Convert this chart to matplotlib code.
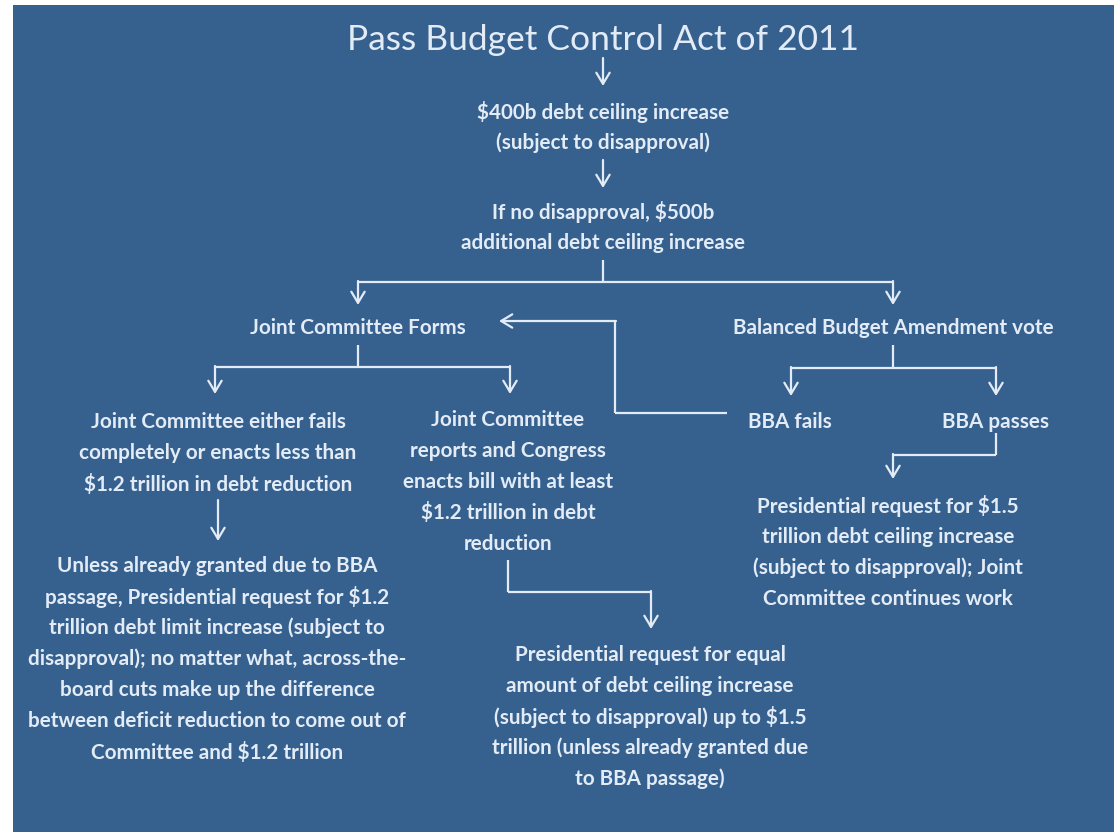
import matplotlib
matplotlib.use("Agg")
import matplotlib.pyplot as plt
from matplotlib.patches import Rectangle, FancyArrowPatch

# ---- content ----
title = "Pass Budget Control Act of 2011"
step1 = ["$400b debt ceiling increase", "(subject to disapproval)"]
step2 = ["If no disapproval, $500b", "additional debt ceiling increase"]
jc_forms = "Joint Committee Forms"
bba_vote = "Balanced Budget Amendment vote"
jc_fails = ["Joint Committee either fails", "completely or enacts less than",
            "$1.2 trillion in debt reduction"]
jc_reports = ["Joint Committee", "reports and Congress", "enacts bill with at least",
              "$1.2 trillion in debt", "reduction"]
bba_fails = "BBA fails"
bba_passes = "BBA passes"
bba_pass_result = ["Presidential request for $1.5", "trillion debt ceiling increase",
                   "(subject to disapproval); Joint", "Committee continues work"]
fail_result = ["Unless already granted due to BBA", "passage, Presidential request for $1.2",
               "trillion debt limit increase (subject to", "disapproval); no matter what, across-the-",
               "board cuts make up the difference", "between deficit reduction to come out of",
               "Committee and $1.2 trillion"]
report_result = ["Presidential request for equal", "amount of debt ceiling increase",
                 "(subject to disapproval) up to $1.5", "trillion (unless already granted due",
                 "to BBA passage)"]

BG = "#36618f"
FG = "#e3ecf6"
W, H = 1114, 832

fig = plt.figure(figsize=(W / 100, H / 100), dpi=100, facecolor="white")
ax = fig.add_axes([0, 0, 1, 1])
ax.set_xlim(0, W)
ax.set_ylim(H, 0)
ax.axis("off")
ax.add_patch(Rectangle((13, 5), W - 13, H - 5, facecolor=BG, edgecolor="none"))

FONT = "Lato"
BODY = 14.9
LS = 31


def block(lines, x, y0):
    for i, s in enumerate(lines):
        ax.text(x, y0 + i * LS, s, ha="center", va="center", color=FG,
                fontsize=BODY, fontweight="bold", family=FONT)


def seg(xs, ys):
    ax.plot(xs, ys, color=FG, lw=1.6, solid_capstyle="butt", solid_joinstyle="miter")


def arrow(p0, p1):
    ax.add_patch(FancyArrowPatch(p0, p1, arrowstyle="->,head_length=5,head_width=3",
                                 color=FG, lw=1.6, mutation_scale=1.6,
                                 shrinkA=0, shrinkB=0))


ax.text(603, 40, title, ha="center", va="center", color=FG, fontsize=25.5, family=FONT)
arrow((603, 58), (603, 86))
block(step1, 603, 112)
arrow((603, 160), (603, 188))
block(step2, 603, 212)

seg([603, 603], [260, 282])
seg([358, 893], [282, 282])
arrow((358, 281), (358, 305))
arrow((893, 281), (893, 305))

block([jc_forms], 358, 328)
block([bba_vote], 893, 328)

seg([358, 358], [345, 367])
seg([215, 510], [367, 367])
arrow((215, 366), (215, 394))
arrow((510, 366), (510, 394))

seg([893, 893], [345, 368])
seg([791, 996], [368, 368])
arrow((791, 367), (791, 396))
arrow((996, 367), (996, 396))

# feedback from BBA fails to Joint Committee Forms
seg([727, 615], [413, 413])
seg([615, 615], [413, 321])
arrow((616, 321), (499, 321))

block([bba_fails], 790, 422)
block([bba_passes], 996, 422)

seg([996, 996], [433, 455])
seg([996, 893], [455, 455])
arrow((893, 454), (893, 479))
block(bba_pass_result, 888, 506)

block(jc_fails, 218, 422)
arrow((218, 500), (218, 541))
block(fail_result, 217, 566)

block(jc_reports, 508, 420)
seg([508, 508], [560, 592])
seg([508, 651], [592, 592])
arrow((651, 591), (651, 629))
block(report_result, 650, 655)

fig.savefig("out.png", dpi=100, facecolor="white")
